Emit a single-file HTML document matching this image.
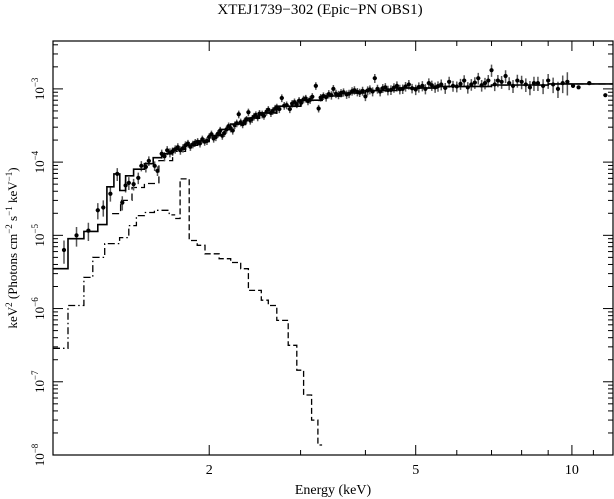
<!DOCTYPE html>
<html><head><meta charset="utf-8"><style>
html,body{margin:0;padding:0;background:#fff;}
svg{display:block;font-family:"Liberation Serif",serif;}
</style></head><body>
<svg id="chart" width="614" height="499" viewBox="0 0 614 499" xmlns="http://www.w3.org/2000/svg">
<text x="320" y="14" font-size="15" text-anchor="middle">XTEJ1739−302 (Epic−PN OBS1)</text>
<text x="333" y="494" font-size="14" text-anchor="middle">Energy (keV)</text>
<text transform="translate(17,248) rotate(-90)" font-size="13" text-anchor="middle">keV<tspan font-size="9" dy="-5">2</tspan><tspan dy="5"> (Photons cm</tspan><tspan font-size="9" dy="-5">−2</tspan><tspan dy="5"> s</tspan><tspan font-size="9" dy="-5">−1</tspan><tspan dy="5"> keV</tspan><tspan font-size="9" dy="-5">−1</tspan><tspan dy="5">)</tspan></text>
<g id="marks"></g>
<rect x="53" y="41" width="560" height="414" fill="none" stroke="#000" stroke-width="1.2"/>
</svg>
<script>
const xTicksMajor=[2,5,10];
const xTicksMinor=[3,4,6,7,8,9,11,12];
const yDecades=[-8,-7,-6,-5,-4,-3];
// total model (solid)
const totEdges=[1.0,1.069,1.147,1.22,1.27,1.31,1.345,1.38,1.43,1.5,1.56,1.62,1.7,1.8,1.9,2.0,2.1,2.2,2.35,2.5,2.7,3.0,3.3,3.6,4.0,4.6,5.5,7.0,9.0,12.0];
const totVals=[3.5e-6,9.0e-6,1.13e-5,1.4e-5,4.6e-5,6.9e-5,4.1e-5,6.5e-5,8.0e-5,9.5e-5,1.15e-4,1.3e-4,1.5e-4,1.7e-4,1.95e-4,2.3e-4,2.8e-4,3.3e-4,4.0e-4,4.7e-4,5.8e-4,7.0e-4,8.0e-4,8.8e-4,9.5e-4,1.03e-3,1.08e-3,1.13e-3,1.17e-3];
// component A low part (dash-dot) and line part (dashed)
const aEdges=[1.0,1.069,1.147,1.193,1.258,1.344,1.40,1.448,1.5,1.568,1.675,1.72];
const aVals=[2.87e-7,1.1e-6,2.66e-6,5.0e-6,7.7e-6,9.3e-6,1.36e-5,1.86e-5,2.05e-5,2.2e-5,1.9e-5];
const a2Edges=[1.72,1.758,1.83,1.896,1.963,2.09,2.2,2.3,2.38,2.52,2.6,2.7,2.84,2.95,3.04,3.15,3.24,3.3];
const a2Vals=[1.7e-5,5.9e-5,8.5e-6,7.3e-6,5.6e-6,4.8e-6,4.26e-6,3.5e-6,1.77e-6,1.3e-6,1.1e-6,6.9e-7,3.15e-7,1.44e-7,6.6e-8,3.0e-8,1.37e-8];
// component B (dashed continuum)
const bEdges=[1.3,1.35,1.42,1.5,1.6,1.7,1.8,1.9,2.0,2.1,2.2,2.35,2.5,2.7,3.0,3.3,3.6,4.0,4.6,5.5,7.0,9.0,12.0];
const bVals=[1.98e-5,3.0e-5,4.5e-5,5.1e-5,1.05e-4,1.4e-4,1.65e-4,1.9e-4,2.25e-4,2.75e-4,3.25e-4,3.95e-4,4.65e-4,5.75e-4,6.95e-4,7.95e-4,8.75e-4,9.45e-4,1.025e-3,1.075e-3,1.125e-3,1.165e-3];
// data points
const ptE=[1.05,1.11,1.17,1.22,1.25,1.29,1.33,1.36,1.38,1.40,1.43,1.46,1.48,1.51,1.53,1.57,1.59,1.62,1.64,1.66,1.68,1.70,1.72,1.74,1.76,1.78,1.80,1.82,1.84,1.86,1.88,1.90,1.92,1.94,1.96,1.98,2.00,2.02,2.04,2.06,2.08,2.10,2.12,2.14,2.16,2.18,2.20,2.22,2.24,2.26,2.28,2.30,2.32,2.34,2.36,2.38,2.40,2.42,2.44,2.46,2.48,2.50,2.53,2.55,2.58,2.60,2.63,2.65,2.68,2.70,2.73,2.76,2.79,2.82,2.86,2.89,2.92,2.95,2.98,3.01,3.04,3.07,3.10,3.13,3.16,3.21,3.25,3.28,3.32,3.36,3.40,3.44,3.47,3.51,3.55,3.59,3.63,3.68,3.72,3.77,3.81,3.86,3.90,3.95,4.00,4.04,4.08,4.13,4.17,4.22,4.27,4.32,4.37,4.42,4.48,4.54,4.60,4.66,4.72,4.78,4.85,4.92,5.00,5.07,5.15,5.22,5.30,5.37,5.45,5.52,5.60,5.70,5.80,5.90,6.00,6.10,6.20,6.30,6.40,6.50,6.60,6.70,6.80,6.90,7.00,7.10,7.20,7.32,7.45,7.57,7.70,7.85,8.00,8.15,8.30,8.45,8.60,8.80,9.00,9.20,9.40,9.60,9.80,10.05,10.3,10.8,11.6];
const ptV=[6.3e-6,1.0e-5,1.16e-5,2.2e-5,2.4e-5,3.7e-5,6.9e-5,2.8e-5,4.8e-5,5.2e-5,5.0e-5,6.1e-5,8.9e-5,8.6e-5,1.04e-4,8.9e-5,7.6e-5,1.3e-4,1.2e-4,1.45e-4,1.35e-4,1.4e-4,1.5e-4,1.6e-4,1.45e-4,1.55e-4,1.7e-4,1.8e-4,1.62e-4,1.75e-4,1.85e-4,1.9e-4,1.8e-4,2.05e-4,1.9e-4,1.95e-4,2.2e-4,2.4e-4,2.1e-4,2.2e-4,2.45e-4,2.7e-4,2.3e-4,2.5e-4,2.8e-4,3.1e-4,2.9e-4,2.7e-4,3.2e-4,3.4e-4,4.5e-4,3.5e-4,3.3e-4,3.6e-4,3.8e-4,4.8e-4,3.7e-4,3.9e-4,4.2e-4,4.4e-4,4.1e-4,4.6e-4,4.5e-4,4.3e-4,4.9e-4,5.2e-4,4.7e-4,5.0e-4,5.4e-4,5.6e-4,5.3e-4,7.5e-4,5.9e-4,6.0e-4,5.3e-4,6.3e-4,6.6e-4,6.2e-4,6.9e-4,6.5e-4,7.2e-4,7.4e-4,6.8e-4,7.1e-4,7.8e-4,1.1e-3,5.4e-4,7.6e-4,8.0e-4,7.7e-4,8.5e-4,8.2e-4,1.0e-3,8.6e-4,8.3e-4,8.8e-4,9.0e-4,8.4e-4,8.6e-4,9.3e-4,9.6e-4,9.1e-4,8.9e-4,9.4e-4,7.9e-4,9.5e-4,9.8e-4,9.2e-4,1.4e-3,1.0e-3,9.2e-4,1.02e-3,1.05e-3,9.6e-4,9.7e-4,1.04e-3,1.1e-3,9.9e-4,1.0e-3,1.08e-3,1.15e-3,1.02e-3,9.8e-4,1.06e-3,1.1e-3,1.0e-3,1.2e-3,1.12e-3,1.05e-3,1.09e-3,1.15e-3,1.03e-3,1.25e-3,1.1e-3,1.08e-3,1.17e-3,1.3e-3,1.05e-3,1.15e-3,1.22e-3,1.4e-3,1.12e-3,1.2e-3,1.3e-3,1.8e-3,1.15e-3,1.3e-3,1.25e-3,1.5e-3,1.2e-3,1.1e-3,1.3e-3,1.25e-3,1.15e-3,1.05e-3,1.2e-3,1.2e-3,1.1e-3,1.3e-3,1.15e-3,1.0e-3,1.2e-3,1.25e-3,1.1e-3,1.05e-3,1.2e-3,8.2e-4];
const ptErr=[0.35,0.3,0.28,0.25,0.25,0.22,0.2,0.22,0.2,0.2,0.18,0.18,0.16,0.16,0.15,0.15,0.15,0.14,0.14,0.14,0.14,0.13,0.13,0.13,0.13,0.13,0.13,0.12,0.12,0.12,0.12,0.12,0.12,0.12,0.12,0.12,0.12,0.12,0.12,0.12,0.12,0.12,0.12,0.12,0.12,0.12,0.12,0.12,0.12,0.12,0.12,0.12,0.12,0.12,0.12,0.12,0.12,0.12,0.12,0.12,0.12,0.12,0.12,0.12,0.12,0.12,0.12,0.12,0.12,0.12,0.12,0.12,0.12,0.12,0.12,0.12,0.12,0.12,0.12,0.12,0.12,0.12,0.12,0.12,0.12,0.12,0.12,0.12,0.12,0.13,0.13,0.13,0.13,0.13,0.13,0.13,0.13,0.13,0.13,0.13,0.13,0.13,0.13,0.14,0.14,0.14,0.14,0.14,0.14,0.14,0.14,0.14,0.14,0.15,0.15,0.15,0.15,0.15,0.15,0.15,0.15,0.15,0.16,0.16,0.16,0.16,0.16,0.16,0.16,0.16,0.17,0.17,0.17,0.17,0.17,0.17,0.18,0.18,0.18,0.18,0.18,0.18,0.18,0.19,0.19,0.19,0.19,0.2,0.2,0.2,0.2,0.2,0.21,0.21,0.22,0.22,0.22,0.23,0.23,0.24,0.25,0.27,0.35];

const L=53,R=613,T=41,B=455;
const xMin=1.0,xMax=12.0;
const yTop=-2.346,yBot=-8;
function X(e){return L+(Math.log10(e)-Math.log10(xMin))/(Math.log10(xMax)-Math.log10(xMin))*(R-L);}
function Y(v){return B-(Math.log10(v)-yBot)/(yTop-yBot)*(B-T);}
const NS="http://www.w3.org/2000/svg";
const g=document.getElementById('marks');
function mk(tag,at){const e=document.createElementNS(NS,tag);for(const k in at)e.setAttribute(k,at[k]);g.appendChild(e);return e;}
function stepPath(edges,vals){let d='';for(let i=0;i<vals.length;i++){const y=Y(vals[i]);const x0=X(edges[i]),x1=X(edges[i+1]);d+=(i===0?'M':'L')+x0.toFixed(1)+','+y.toFixed(1)+'L'+x1.toFixed(1)+','+y.toFixed(1);}return d;}
xTicksMajor.forEach(t=>{const x=X(t);
const a=mk('line',{x1:x,x2:x,y1:B,y2:B-10,stroke:'#000'});
const b=mk('line',{x1:x,x2:x,y1:T,y2:T+10,stroke:'#000'});
const tx=mk('text',{x:x,y:474,'font-size':14,'text-anchor':'middle'});tx.textContent=t;});
xTicksMinor.forEach(t=>{const x=X(t);if(x>R)return;
const a=mk('line',{x1:x,x2:x,y1:B,y2:B-5,stroke:'#000'});
const b=mk('line',{x1:x,x2:x,y1:T,y2:T+5,stroke:'#000'});});
yDecades.forEach(d=>{const y=Y(Math.pow(10,d));
[[L,L+10],[R,R-10]].forEach(p=>{const a=mk('line',{x1:p[0],x2:p[1],y1:y,y2:y,stroke:'#000'});});
for(let m=2;m<=9;m++){const yy=Y(m*Math.pow(10,d));if(yy<T)continue;
[[L,L+5],[R,R-5]].forEach(p=>{const a=mk('line',{x1:p[0],x2:p[1],y1:yy,y2:yy,stroke:'#000'});});}
const tx=mk('text',{transform:'translate(44,'+y+') rotate(-90)','font-size':13,'text-anchor':'middle'});
tx.innerHTML='10<tspan font-size="9" dy="-6">−'+(-d)+'</tspan>';
});
const pa=mk('path',{d:stepPath(aEdges,aVals),fill:'none',stroke:'#000','stroke-width':1.3,'stroke-dasharray':'7,3,1.5,3'});

const pa2=mk('path',{d:stepPath(a2Edges,a2Vals),fill:'none',stroke:'#000','stroke-width':1.3,'stroke-dasharray':'6,3'});

const pb=mk('path',{d:stepPath(bEdges,bVals),fill:'none',stroke:'#000','stroke-width':1.3,'stroke-dasharray':'7,4'});

for(let i=0;i<ptE.length;i++){
const e=ptE[i],v=ptV[i],r=ptErr[i];
const x=X(e),y=Y(v),hw=Math.max(2,X(e*1.008)-x);
const eb=mk('path',{d:'M'+(x-hw)+','+y+'L'+(x+hw)+','+y+'M'+x+','+Y(v*(1+r))+'L'+x+','+Y(v*(1-r)),stroke:'#555','stroke-width':1.5,fill:'none'});

const c=mk('circle',{cx:x,cy:y,r:2.1,fill:'#000'});
}
const pt=mk('path',{d:stepPath(totEdges,totVals),fill:'none',stroke:'#000','stroke-width':1.6});

</script>
</body></html>
